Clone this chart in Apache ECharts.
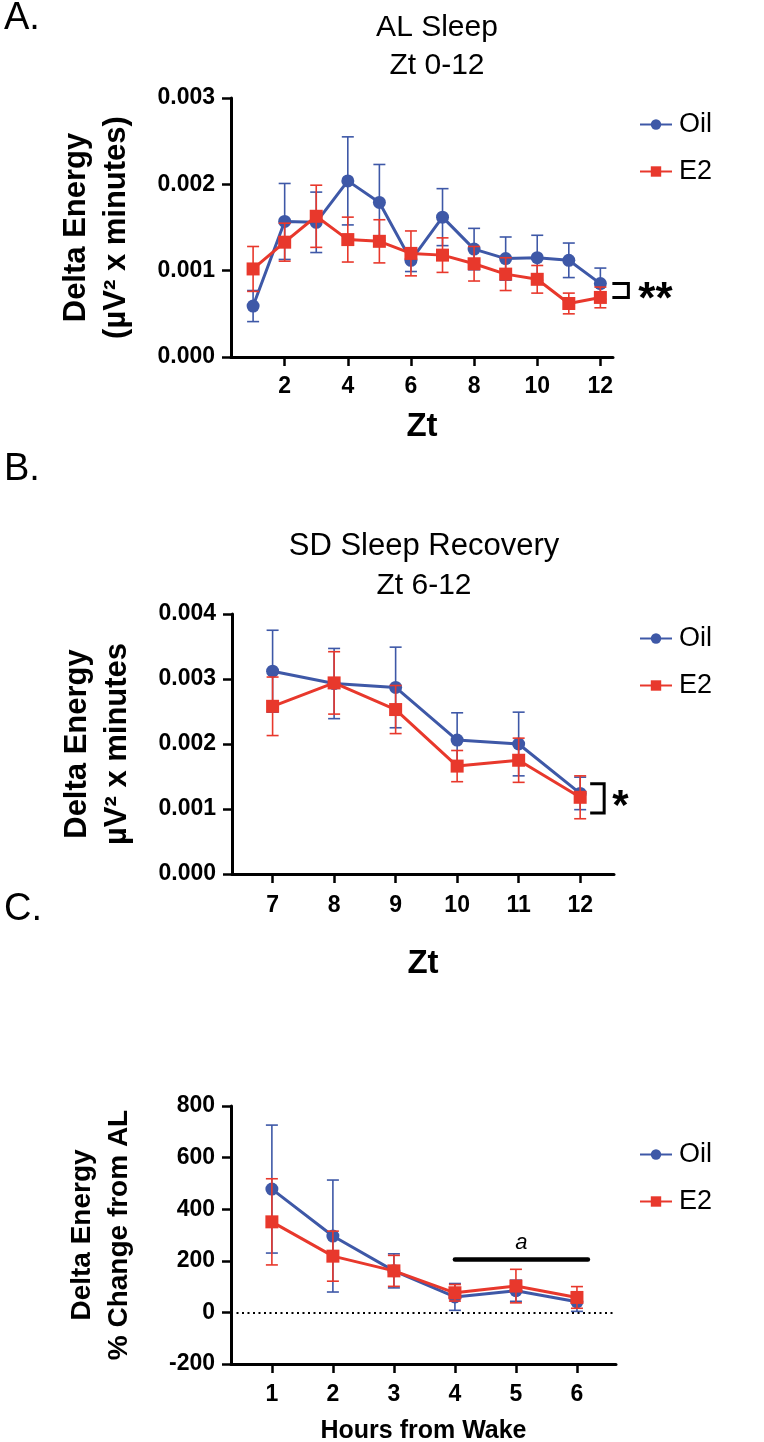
<!DOCTYPE html>
<html>
<head>
<meta charset="utf-8">
<script src="https://cdn.jsdelivr.net/npm/echarts@6/dist/echarts.min.js"></script>
<style>
html,body{margin:0;padding:0;background:#fff;}
#chart{width:764px;height:1442px;}
</style>
</head>
<body>
<div id="chart"></div>
<script>
// ---------- Data ----------
// Panel A: AL Sleep, Zt 0-12
const zeitA = [1, 2, 3, 4, 5, 6, 7, 8, 9, 10, 11, 12];
const oilA = [0.00059, 0.00157, 0.00156, 0.00204, 0.00179, 0.00112, 0.00162, 0.00125, 0.00114, 0.00115, 0.00112, 0.00085];
const oilA_sem = [0.00018, 0.00044, 0.00035, 0.00051, 0.00044, 0.00013, 0.00033, 0.00024, 0.00025, 0.00026, 0.00020, 0.00018];
const e2A = [0.00102, 0.00133, 0.00163, 0.00136, 0.00134, 0.00120, 0.00118, 0.00108, 0.00096, 0.00090, 0.00062, 0.00069];
const e2A_sem = [0.00026, 0.00022, 0.00036, 0.00026, 0.00025, 0.00026, 0.00020, 0.00020, 0.00019, 0.00016, 0.00012, 0.00012];
const ticksA = [2, 4, 6, 8, 10, 12];
const sigA = [0.00085, 0.00069];   // bracket ends
const sigA_label = '**';

// Panel B: SD Sleep Recovery, Zt 6-12
const zeitB = [7, 8, 9, 10, 11, 12];
const oilB = [0.00312, 0.00293, 0.00287, 0.00206, 0.00200, 0.00124];
const oilB_sem = [0.00063, 0.00054, 0.00062, 0.00042, 0.00049, 0.00025];
const e2B = [0.00258, 0.00294, 0.00253, 0.00166, 0.00175, 0.00118];
const e2B_sem = [0.00045, 0.00048, 0.00037, 0.00024, 0.00034, 0.00033];
const ticksB = [7, 8, 9, 10, 11, 12];
const sigB = [0.00139, 0.00094];
const sigB_label = '*';

// Panel C: % change from AL
const hoursC = [1, 2, 3, 4, 5, 6];
const oilC = [478, 296, 161, 60, 84, 41];
const oilC_sem = [248, 217, 66, 52, 41, 37];
const e2C = [351, 218, 161, 76, 102, 58];
const e2C_sem = [167, 97, 60, 32, 65, 42];
const ticksC = [1, 2, 3, 4, 5, 6];
const barC = [4, 6.18];   // significance bar span (hours)
const barC_level = 205;
const barC_label = 'a';

// ---------- Style ----------
const BLUE = '#3E58A7';
const RED = '#E8382C';
const FONT = '"Liberation Sans", Arial, Helvetica, sans-serif';

function pts(xs, ys) { return xs.map((x, i) => [x, ys[i]]); }
function errData(xs, ys, sem) { return xs.map((x, i) => [x, ys[i] - sem[i], ys[i] + sem[i]]); }

function errRender(color) {
  return function (params, api) {
    const x = api.value(0);
    const pLo = api.coord([x, api.value(1)]);
    const pHi = api.coord([x, api.value(2)]);
    const w = 6;
    const st = { stroke: color, lineWidth: 1.6 };
    return {
      type: 'group',
      children: [
        { type: 'line', shape: { x1: pHi[0], y1: pHi[1], x2: pLo[0], y2: pLo[1] }, style: st },
        { type: 'line', shape: { x1: pHi[0] - w, y1: pHi[1], x2: pHi[0] + w, y2: pHi[1] }, style: st },
        { type: 'line', shape: { x1: pLo[0] - w, y1: pLo[1], x2: pLo[0] + w, y2: pLo[1] }, style: st }
      ]
    };
  };
}

function bracketRender(label, off1, off2, txtGap, fontSize, dy) {
  return function (params, api) {
    const x = api.value(0);
    const p1 = api.coord([x, api.value(1)]);
    const p2 = api.coord([x, api.value(2)]);
    const x0 = p1[0] + off1, x1 = p1[0] + off2;
    return {
      type: 'group',
      children: [
        { type: 'polyline', shape: { points: [[x0, p1[1]], [x1, p1[1]], [x1, p2[1]], [x0, p2[1]]] },
          style: { stroke: '#000', lineWidth: 3, fill: null } },
        { type: 'text', x: x1 + txtGap, y: (p1[1] + p2[1]) / 2 + dy,
          style: { text: label, fill: '#000', font: 'bold ' + fontSize + 'px ' + FONT, verticalAlign: 'middle', align: 'left' } }
      ]
    };
  };
}

function xAxisCfg(grid, min, max, ticks, name, nameGap, nameSize, labelMargin) {
  return {
    type: 'value', gridIndex: grid, min: min, max: max,
    name: name, nameLocation: 'middle', nameGap: nameGap,
    nameTextStyle: { fontFamily: FONT, fontWeight: 'bold', fontSize: nameSize, color: '#000' },
    axisLine: { show: true, onZero: false, lineStyle: { color: '#000', width: 3 } },
    axisTick: { show: true, inside: false, length: 9, lineStyle: { color: '#000', width: 2.5 }, customValues: ticks },
    axisLabel: { show: true, customValues: ticks, margin: labelMargin, fontFamily: FONT, fontWeight: 'bold', fontSize: 23, color: '#000' },
    splitLine: { show: false }
  };
}

function yAxisCfg(grid, min, max, interval, name, nameGap, nameSize, fmt) {
  return {
    type: 'value', gridIndex: grid, min: min, max: max, interval: interval,
    name: name, nameLocation: 'middle', nameGap: nameGap, nameRotate: 90,
    nameTextStyle: { fontFamily: FONT, fontWeight: 'bold', fontSize: nameSize, color: '#000', lineHeight: nameSize * 1.3 },
    axisLine: { show: true, onZero: false, lineStyle: { color: '#000', width: 3 } },
    axisTick: { show: true, inside: false, length: 9, lineStyle: { color: '#000', width: 2.5 } },
    axisLabel: { show: true, margin: 16, fontFamily: FONT, fontWeight: 'bold', fontSize: 23, color: '#000', formatter: fmt },
    splitLine: { show: false }
  };
}

function panelSeries(gi, xs, oil, oilSem, e2, e2Sem) {
  return [
    { type: 'custom', name: 'oilErr' + gi, xAxisIndex: gi, yAxisIndex: gi, renderItem: errRender(BLUE),
      data: errData(xs, oil, oilSem), z: 2, silent: true },
    { type: 'line', name: 'Oil', xAxisIndex: gi, yAxisIndex: gi, data: pts(xs, oil),
      symbol: 'circle', symbolSize: 13, itemStyle: { color: BLUE }, lineStyle: { color: BLUE, width: 3 }, z: 3, animation: false },
    { type: 'custom', name: 'e2Err' + gi, xAxisIndex: gi, yAxisIndex: gi, renderItem: errRender(RED),
      data: errData(xs, e2, e2Sem), z: 4, silent: true },
    { type: 'line', name: 'E2', xAxisIndex: gi, yAxisIndex: gi, data: pts(xs, e2),
      symbol: 'rect', symbolSize: 13, itemStyle: { color: RED }, lineStyle: { color: RED, width: 3 }, z: 5, animation: false }
  ];
}

function legendCfg(top) {
  return {
    data: ['Oil', 'E2'], orient: 'vertical', left: 634, top: top, itemGap: 20,
    itemWidth: 32, itemHeight: 13, selectedMode: false,
    textStyle: { fontFamily: FONT, fontSize: 27, color: '#000', padding: [0, 0, 0, 2] }
  };
}

const series = [];
series.push(...panelSeries(0, zeitA, oilA, oilA_sem, e2A, e2A_sem));
series.push(...panelSeries(1, zeitB, oilB, oilB_sem, e2B, e2B_sem));
series.push(...panelSeries(2, hoursC, oilC, oilC_sem, e2C, e2C_sem));

// significance brackets
series.push({ type: 'custom', xAxisIndex: 0, yAxisIndex: 0, renderItem: bracketRender(sigA_label, 12, 28, 10, 44, 10),
  data: [[zeitA[zeitA.length - 1], sigA[0], sigA[1]]], z: 6, silent: true, clip: false });
series.push({ type: 'custom', xAxisIndex: 1, yAxisIndex: 1, renderItem: bracketRender(sigB_label, 10, 24, 8, 42, 9),
  data: [[zeitB[zeitB.length - 1], sigB[0], sigB[1]]], z: 6, silent: true, clip: false });

// Panel C: zero dotted line + 'a' bar
series.push({
  type: 'line', xAxisIndex: 2, yAxisIndex: 2, data: [], silent: true, z: 1,
  markLine: {
    silent: true, symbol: ['none', 'none'], animation: false,
    data: [
      { yAxis: 0, lineStyle: { color: '#000', width: 2, type: [2, 3.5] }, label: { show: false } },
      [
        { coord: [barC[0], barC_level], lineStyle: { color: '#000', width: 4.5, type: 'solid', cap: 'round' },
          label: { show: true, position: 'middle', formatter: barC_label, fontFamily: FONT, fontStyle: 'italic', fontSize: 22, color: '#000', distance: 6 } },
        { coord: [barC[1], barC_level] }
      ]
    ]
  }
});

const chart = echarts.init(document.getElementById('chart'), null, { renderer: 'canvas' });
chart.setOption({
  backgroundColor: '#ffffff',
  animation: false,
  grid: [
    { left: 231, top: 98, width: 382, height: 259, outerBoundsMode: 'none', containLabel: false },
    { left: 232, top: 614, width: 382, height: 260, outerBoundsMode: 'none', containLabel: false },
    { left: 231, top: 1106, width: 385, height: 258, outerBoundsMode: 'none', containLabel: false }
  ],
  xAxis: [
    xAxisCfg(0, 0.3, 12.4, ticksA, 'Zt', 53, 33, 18),
    xAxisCfg(1, 6.34, 12.55, ticksB, 'Zt', 73, 33, 20),
    xAxisCfg(2, 0.33, 6.64, ticksC, 'Hours from Wake', 55, 25, 19)
  ],
  yAxis: [
    yAxisCfg(0, 0, 0.003, 0.001, 'Delta Energy\n(µV² x minutes)', 94, 31, v => v.toFixed(3)),
    yAxisCfg(1, 0, 0.004, 0.001, 'Delta Energy\nµV² x minutes', 94, 31, v => v.toFixed(3)),
    yAxisCfg(2, -200, 800, 200, 'Delta Energy\n% Change from AL', 94, 28, v => String(v))
  ],
  legend: [legendCfg(106), legendCfg(620), legendCfg(1136)],
  graphic: [
    { type: 'text', left: 4, top: 0, style: { text: 'A.', font: '38px ' + FONT, fill: '#000' } },
    { type: 'text', left: 4, top: 451, style: { text: 'B.', font: '38px ' + FONT, fill: '#000' } },
    { type: 'text', left: 4, top: 891, style: { text: 'C.', font: '38px ' + FONT, fill: '#000' } },
    { type: 'text', x: 437, y: 28, style: { text: 'AL Sleep', font: '30px ' + FONT, fill: '#000', align: 'center', verticalAlign: 'middle' } },
    { type: 'text', x: 437, y: 66, style: { text: 'Zt 0-12', font: '30px ' + FONT, fill: '#000', align: 'center', verticalAlign: 'middle' } },
    { type: 'text', x: 424, y: 546, style: { text: 'SD Sleep Recovery', font: '31px ' + FONT, fill: '#000', align: 'center', verticalAlign: 'middle' } },
    { type: 'text', x: 424, y: 586, style: { text: 'Zt 6-12', font: '30px ' + FONT, fill: '#000', align: 'center', verticalAlign: 'middle' } }
  ],
  series: series
});
</script>
</body>
</html>
